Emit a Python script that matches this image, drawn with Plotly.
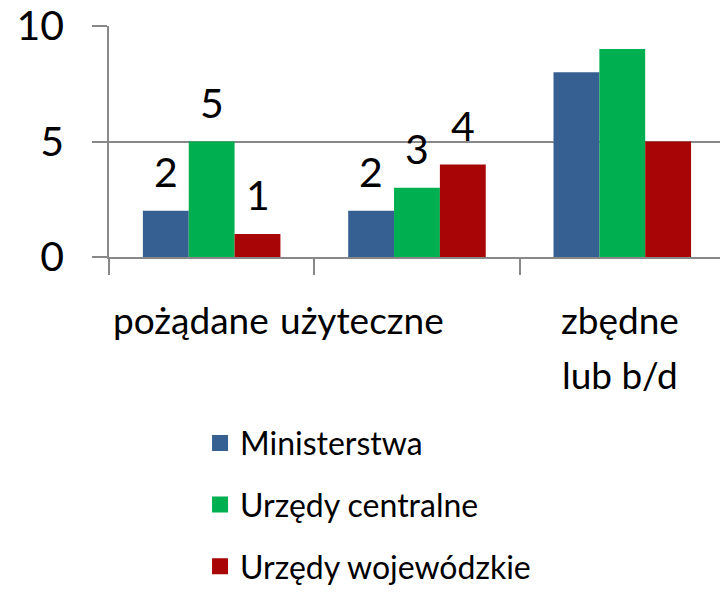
import plotly.graph_objects as go

categories = ["pożądane", "użyteczne", "zbędne<br>lub b/d"]
series_names = ["Ministerstwa", "Urzędy centralne", "Urzędy wojewódzkie"]
ministerstwa = [2, 2, 8]
urzedy_centralne = [5, 3, 9]
urzedy_wojewodzkie = [1, 4, 5]
show_value_labels = [True, True, False]
y_ticks = [0, 5, 10]

colors = ["#376092", "#00B050", "#A80606"]
FONT = "Lato"
GRAY = "#888888"
BARGAP = 0.33

values = [ministerstwa, urzedy_centralne, urzedy_wojewodzkie]

fig = go.Figure()
for name, vals, col in zip(series_names, values, colors):
    fig.add_trace(go.Bar(
        x=categories, y=vals, name=name, legendgroup=name, showlegend=False,
        marker=dict(color=col, line=dict(width=0)),
    ))
# legend entries with larger square swatches
for name, col in zip(series_names, colors):
    fig.add_trace(go.Scatter(
        x=[None], y=[None], mode="markers", name=name, legendgroup=name,
        marker=dict(symbol="square", size=21, color=col, line=dict(width=0)),
        showlegend=True,
    ))

# value labels above bars (group offsets computed from the bar gap)
w = (1 - BARGAP) / len(values)
for j, vals in enumerate(values):
    for i, v in enumerate(vals):
        if show_value_labels[i]:
            fig.add_annotation(
                x=i + (j - (len(values) - 1) / 2) * w, y=v, xref="x", yref="y",
                text=str(v), showarrow=False, yanchor="bottom", yshift=13,
                font=dict(size=41, family=FONT, color="black"),
            )

# category labels (shifted as in the reference where they crowd)
label_shift = [-21, -55, -2]
for i, cat in enumerate(categories):
    for k, line in enumerate(cat.split("<br>")):
        fig.add_annotation(
            x=i, y=0, xref="x", yref="y", text=line, showarrow=False,
            yanchor="top", yshift=-38 - 55 * k, xshift=label_shift[i],
            font=dict(size=37, family=FONT, color="black"),
        )

fig.update_layout(
    width=720, height=593,
    margin=dict(l=109, r=0, t=26, b=336, autoexpand=False),
    paper_bgcolor="white", plot_bgcolor="white",
    barmode="group", bargap=BARGAP, bargroupgap=0,
    font=dict(family=FONT, color="black"),
    legend=dict(
        x=0.149, xanchor="left", y=-0.687, yanchor="top",
        font=dict(size=32, family=FONT, color="black"),
        tracegroupgap=17, traceorder="grouped",
        bgcolor="rgba(0,0,0,0)",
    ),
    showlegend=True,
)
fig.update_xaxes(
    type="category", range=[-0.5, 2.476], automargin=False,
    tickson="boundaries", ticks="outside", ticklen=16, tickwidth=1.5,
    tickcolor=GRAY, showticklabels=False,
    showline=True, linecolor=GRAY, linewidth=1.5, showgrid=False,
)
fig.update_yaxes(
    range=[0, 10], tickvals=y_ticks, ticks="outside", ticklen=15,
    tickwidth=1.5, tickcolor=GRAY, automargin=False,
    showgrid=True, gridcolor=GRAY, gridwidth=1.5,
    showline=True, linecolor=GRAY, linewidth=1.5, zeroline=False,
    tickfont=dict(size=41, family=FONT, color="black"),
    ticklabelstandoff=20, ticklabeloverflow="allow",
)

fig.write_html("out.html", config={"displayModeBar": False},
               post_script="document.body.style.margin='0';")
